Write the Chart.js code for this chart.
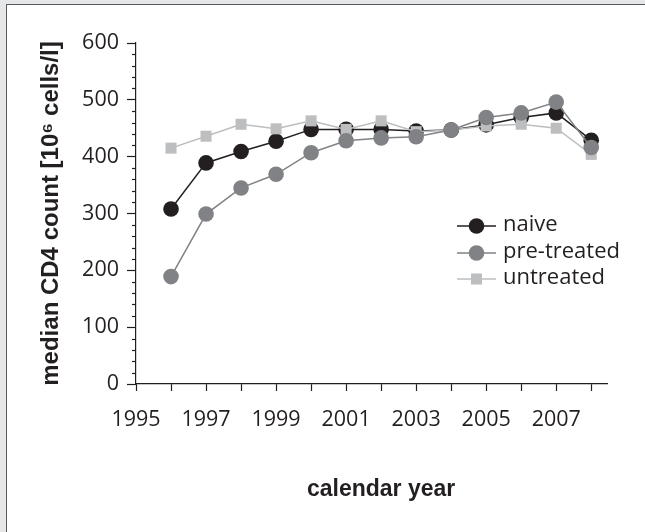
<!DOCTYPE html>
<html>
<head>
<meta charset="utf-8">
<script src="https://cdn.jsdelivr.net/npm/chart.js@4.4.1/dist/chart.umd.min.js"></script>
<style>
    html, body { margin: 0; padding: 0; background: #e6e7e8; overflow: hidden; }
    #frame {
        position: absolute; left: 6px; top: 4px;
        width: 700px; height: 600px;
        background: #fff;
        border-left: 1px solid #58595b;
        border-top: 1px solid #58595b;
    }
    canvas { display: block; }
</style>
</head>
<body>
<div id="frame"><canvas id="cd4Chart" width="638" height="527"></canvas></div>
<script>
/* ================= DATA ================= */
const years = [1996, 1997, 1998, 1999, 2000, 2001, 2002, 2003, 2004, 2005, 2006, 2007, 2008];
const naive = [308, 389, 409, 427, 448, 448, 448, 445, 447, 456, 469, 477, 429];
const preTreated = [189, 299, 345, 369, 407, 428, 433, 435, 447, 469, 477, 496, 416];
const untreated = [415, 436, 457, 449, 463, 448, 463, 444, 447, 454, 457, 450, 404];
const seriesNames = ['naive', 'pre-treated', 'untreated'];
const yTicks = [0, 100, 200, 300, 400, 500, 600];
const xLabelYears = [1995, 1997, 1999, 2001, 2003, 2005, 2007];

const INK = '#231f20';

function toPoints(values) {
    return years.map((y, i) => ({ x: y, y: values[i] }));
}

/* ================= MINOR TICKS ================= */
const minorTicks = {
    id: 'minorTicks',
    afterDraw(chart) {
        const ctx = chart.ctx;
        const ys = chart.scales.y;
        ctx.save();
        ctx.strokeStyle = INK;
        ctx.lineWidth = 1.2;
        for (let v = 20; v < 600; v += 20) {
            if (v % 100 === 0) continue;
            const py = Math.round(ys.getPixelForValue(v)) + 0.5;
            ctx.beginPath();
            ctx.moveTo(ys.right - 4, py);
            ctx.lineTo(ys.right, py);
            ctx.stroke();
        }
        ctx.restore();
    }
};

/* ================= LEGEND ================= */
const legendBox = {
    id: 'legendBox',
    afterDatasetsDraw(chart) {
        const ctx = chart.ctx;
        const area = chart.chartArea;
        const x0 = area.left + 321;
        const rows = [183, 210, 236];
        ctx.save();
        chart.data.datasets.forEach((ds, i) => {
            const y = area.top + rows[i];
            ctx.strokeStyle = ds.borderColor;
            ctx.lineWidth = ds.borderWidth;
            ctx.beginPath();
            ctx.moveTo(x0, y);
            ctx.lineTo(x0 + 39, y);
            ctx.stroke();
            ctx.fillStyle = ds.pointBackgroundColor;
            ctx.beginPath();
            if (ds.pointStyle === 'rect') {
                const s = Math.SQRT1_2 * ds.pointRadius;
                ctx.rect(x0 + 19.5 - s, y - s, 2 * s, 2 * s);
            } else {
                ctx.arc(x0 + 19.5, y, ds.pointRadius, 0, Math.PI * 2);
            }
            ctx.fill();
            ctx.fillStyle = INK;
            ctx.font = '22px "Open Sans"';
            ctx.textBaseline = 'middle';
            ctx.fillText(ds.label, x0 + 46, y - 1);
        });
        ctx.restore();
    }
};

/* ================= CHART ================= */
new Chart(document.getElementById('cd4Chart'), {
    type: 'line',
    data: {
        datasets: [{
            label: seriesNames[0],
            data: toPoints(naive),
            borderColor: INK,
            borderWidth: 1.5,
            pointBackgroundColor: INK,
            pointBorderWidth: 0,
            pointRadius: 7.8,
            pointStyle: 'circle',
            order: 3
        }, {
            label: seriesNames[1],
            data: toPoints(preTreated),
            borderColor: '#808285',
            borderWidth: 1.5,
            pointBackgroundColor: '#808285',
            pointBorderWidth: 0,
            pointRadius: 7.8,
            pointStyle: 'circle',
            order: 1
        }, {
            label: seriesNames[2],
            data: toPoints(untreated),
            borderColor: '#bcbec0',
            borderWidth: 1.5,
            pointBackgroundColor: '#bcbec0',
            pointBorderWidth: 0,
            pointRadius: 7.8,
            pointStyle: 'rect',
            order: 2
        }]
    },
    options: {
        responsive: false,
        animation: false,
        layout: { padding: { top: 38, right: 38, left: 0, bottom: 0 } },
        plugins: {
            legend: { display: false },
            tooltip: { enabled: false }
        },
        scales: {
            x: {
                type: 'linear',
                min: 1995,
                max: 2008.45,
                afterFit: s => { s.height = 148; },
                border: { color: INK, width: 1.2 },
                grid: { drawOnChartArea: false, tickLength: 7, tickColor: INK, tickWidth: 1.2 },
                ticks: {
                    stepSize: 1,
                    includeBounds: false,
                    autoSkip: false,
                    maxRotation: 0,
                    padding: 16,
                    color: INK,
                    font: { family: '"Open Sans"', size: 21.5 },
                    callback: v => xLabelYears.includes(v) ? String(v) : ''
                },
                title: {
                    display: true,
                    text: '   calendar year',
                    color: INK,
                    font: { family: '"Liberation Sans", Arial, sans-serif', size: 23, weight: 'bold' },
                    padding: { top: 0, bottom: 29 }
                }
            },
            y: {
                min: 0,
                max: 600,
                afterFit: s => { s.width = 129; },
                border: { color: INK, width: 1.2 },
                grid: { drawOnChartArea: false, tickLength: 9, tickColor: INK, tickWidth: 1.2 },
                ticks: {
                    stepSize: 100,
                    padding: 8,
                    color: INK,
                    font: { family: '"Open Sans"', size: 21.5 },
                    callback: v => yTicks.includes(v) ? String(v) : ''
                },
                title: {
                    display: true,
                    text: 'median CD4 count [10\u2076 cells/l]',
                    color: INK,
                    font: { family: '"Liberation Sans", Arial, sans-serif', size: 24, weight: 'bold' },
                    padding: { top: 30, bottom: 0 }
                }
            }
        }
    },
    plugins: [minorTicks, legendBox]
});
</script>
</body>
</html>
